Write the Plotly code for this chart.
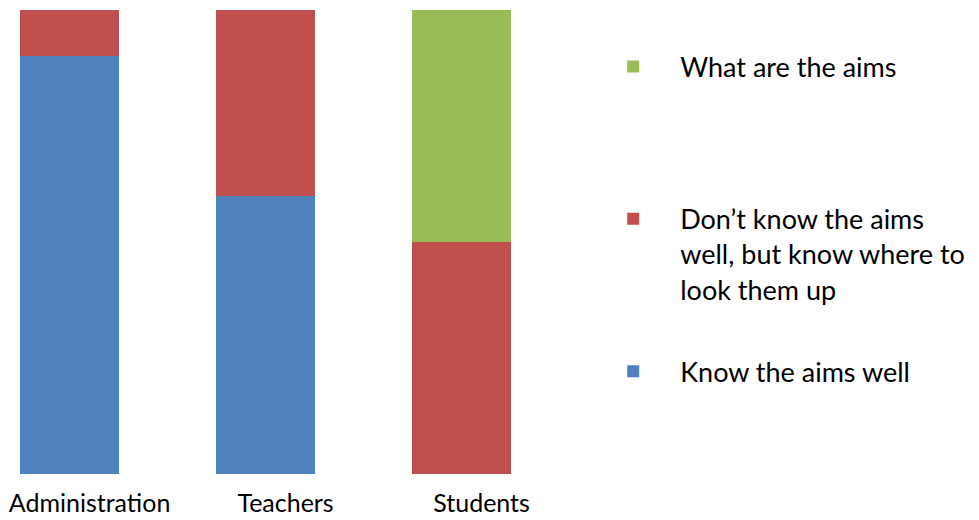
import plotly.graph_objects as go

groups = ["Administration", "Teachers", "Students"]
know_well = [90, 60, 0]
know_where = [10, 40, 50]
what_aims = [0, 0, 50]

series = [
    ("Know the aims well", know_well, "#4F81BD"),
    ("Don’t know the aims<br>well, but know where to<br>look them up", know_where, "#C0504D"),
    ("What are the aims<br>\u00a0<br>\u00a0", what_aims, "#9BBB59"),
]

fig = go.Figure()
for i, (name, vals, color) in enumerate(series):
    fig.add_trace(go.Bar(
        x=groups, y=vals, name=name,
        marker=dict(color=color, line=dict(width=0)),
        legendgroup=str(i), legendrank=3 - i,
        width=0.505,
    ))

fig.update_layout(
    barmode="stack",
    width=979, height=520,
    margin=dict(l=0, r=389, t=2, b=54, autoexpand=False),
    plot_bgcolor="white", paper_bgcolor="white",
    font=dict(family="Lato", size=25, color="black"),
    xaxis=dict(range=[-0.314, 2.696], showgrid=False, zeroline=False,
               showline=False, ticks="", ticklabelstandoff=12,
               ticklabelshift=20, tickfont=dict(size=25)),
    yaxis=dict(range=[0, 100], visible=False),
    legend=dict(x=0.98, y=0.93, xanchor="left", yanchor="top",
                traceorder="grouped", tracegroupgap=44,
                itemwidth=84, valign="top", font=dict(size=27)),
)

fig.write_html("out.html")
